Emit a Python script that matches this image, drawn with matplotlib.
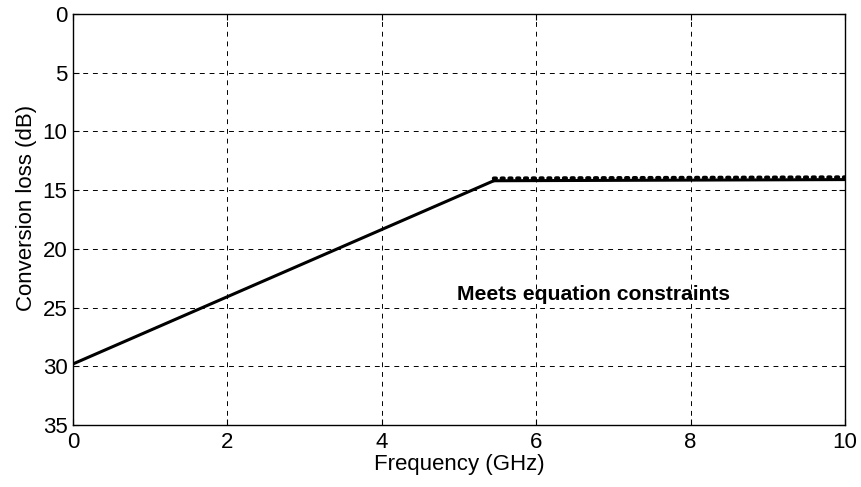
import numpy as np
import matplotlib.pyplot as plt

plt.rcParams['font.family'] = ['Liberation Sans', 'DejaVu Sans']

# data
freq_slope = [0.0, 5.45]
loss_slope = [29.8, 14.2]
freq_flat = [5.45, 10.0]
loss_flat = [14.2, 14.1]
loss_dots = [14.0, 13.9]

fig = plt.figure(figsize=(8.61, 4.87), dpi=100)
ax = fig.add_axes([73/861, 1-425/487, (845-73)/861, (425-14)/487])

ax.plot(freq_slope, loss_slope, 'k-', linewidth=2.2)
ax.plot(freq_flat, loss_flat, 'k-', linewidth=2.2)
ax.plot(freq_flat, loss_dots, 'k', linestyle=(0, (0.6, 1.4)), linewidth=2.8,
        dash_capstyle='round')

ax.text(4.97, 23.9, 'Meets equation constraints', fontsize=15.2, fontweight='bold',
        va='center', ha='left')

ax.set_xlim(0, 10)
ax.set_ylim(35, 0)
ax.set_xticks(np.arange(0, 11, 2))
ax.set_yticks(np.arange(0, 36, 5))
ax.tick_params(direction='in', labelsize=16, length=4, width=0.8, pad=5,
               top=True, right=True)
ax.tick_params(axis='y', pad=4)
ax.grid(True, color='k', linestyle=(0, (5, 5)), linewidth=0.7)
for s in ax.spines.values():
    s.set_linewidth(1.0)

ax.set_xlabel('Frequency (GHz)', fontsize=16, labelpad=1)
ax.set_ylabel('Conversion loss (dB)', fontsize=16)
ax.yaxis.set_label_coords(-0.047, 0.528)

fig.savefig('out.png', dpi=100)
